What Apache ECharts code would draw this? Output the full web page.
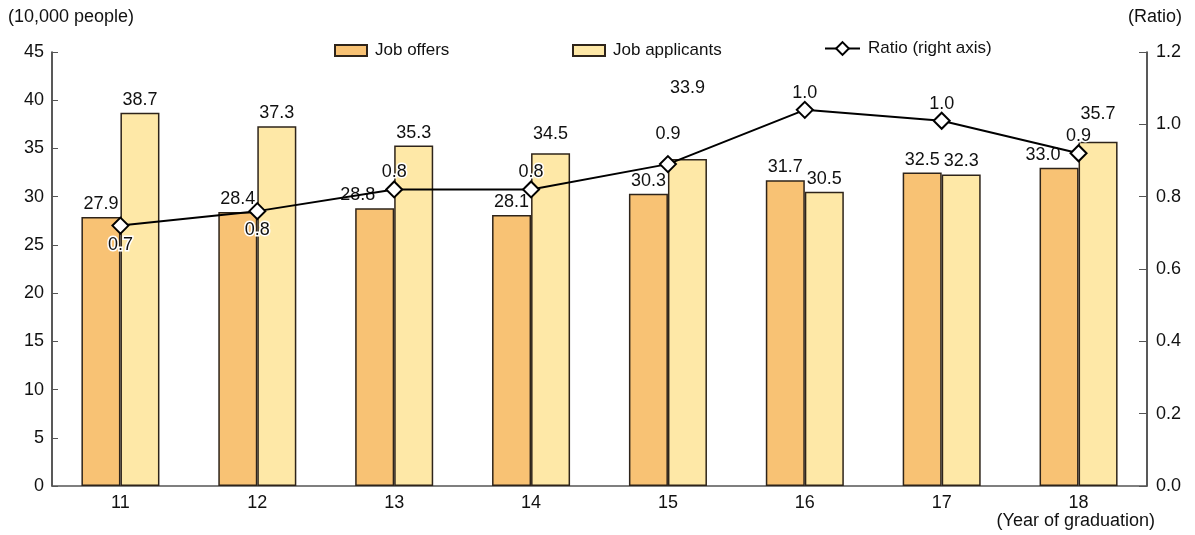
<!DOCTYPE html>
<html>
<head>
<meta charset="utf-8">
<script src="https://cdn.jsdelivr.net/npm/echarts@6/dist/echarts.min.js"></script>
<style>
  html, body { margin: 0; padding: 0; background: #fff; }
  #chart { width: 1195px; height: 535px; }
</style>
</head>
<body>
<div id="chart"></div>
<script>
// Graduation years (category axis)
const years = ['11', '12', '13', '14', '15', '16', '17', '18'];
// Job offers, 10,000 people
const jobOffers = [27.9, 28.4, 28.8, 28.1, 30.3, 31.7, 32.5, 33.0];
// Job applicants, 10,000 people
const jobApplicants = [38.7, 37.3, 35.3, 34.5, 33.9, 30.5, 32.3, 35.7];
// Offers-to-applicants ratio (right axis)
const ratio = [0.72, 0.76, 0.82, 0.82, 0.89, 1.04, 1.01, 0.92];

const FONT = "'Liberation Sans', Arial, sans-serif";
const INK = '#111';
const BORDER = '#2e241a';

// Label nudges for values that would otherwise collide with the ratio line
const offerShift = { 2: [-17, 0], 7: [-16, 0] };
const applicantLift = { 3: -6, 4: -58, 7: -15 };
const ratioBelow = { 0: true, 1: true };
const ratioLift = { 4: -13 };

const chart = echarts.init(document.getElementById('chart'), null, { renderer: 'canvas' });

const barLabel = {
  show: true, position: 'top', distance: 4, fontSize: 18, color: INK,
  textBorderColor: '#fff', textBorderWidth: 2,
  formatter: p => p.value.toFixed(1)
};

chart.setOption({
  animation: false,
  textStyle: { fontFamily: FONT, color: INK },
  grid: { left: 52, right: 48, top: 52, bottom: 49 },
  legend: [
    { data: [{ name: 'Job offers', icon: 'rect' }], left: 329, top: 37, itemWidth: 32, itemHeight: 11 },
    { data: [{ name: 'Job applicants', icon: 'rect' }], left: 567, top: 37, itemWidth: 32, itemHeight: 11 },
    { data: ['Ratio (right axis)'], left: 819, top: 35, itemWidth: 35, itemHeight: 16 }
  ].map(l => Object.assign({
    itemGap: 10,
    textStyle: { fontSize: 17, color: INK, fontFamily: FONT, padding: [0, 0, 0, 3] }
  }, l)),
  graphic: [
    { type: 'text', left: 8, top: 8, style: { text: '(10,000 people)', fontSize: 18, fill: INK, fontFamily: FONT } },
    { type: 'text', right: 13, top: 8, style: { text: '(Ratio)', fontSize: 18, fill: INK, fontFamily: FONT } },
    { type: 'text', right: 40, top: 512, style: { text: '(Year of graduation)', fontSize: 18, fill: INK, fontFamily: FONT } }
  ],
  xAxis: {
    type: 'category',
    data: years,
    boundaryGap: true,
    axisLine: { lineStyle: { color: '#555', width: 1.5 } },
    axisTick: { inside: true, length: 7, lineStyle: { color: '#444', width: 1.5 } },
    axisLabel: { fontSize: 18, color: INK, margin: 8 }
  },
  yAxis: [
    {
      type: 'value', min: 0, max: 45, interval: 5,
      splitLine: { show: false },
      axisLine: { show: true, lineStyle: { color: '#222', width: 1.5 } },
      axisTick: { show: true, inside: true, length: 6, lineStyle: { color: '#555' } },
      axisLabel: { fontSize: 18, color: INK, margin: 8 }
    },
    {
      type: 'value', min: 0, max: 1.2, interval: 0.2,
      splitLine: { show: false },
      axisLine: { show: true, lineStyle: { color: '#222', width: 1.5 } },
      axisTick: { show: true, inside: true, length: 8, lineStyle: { color: '#555' } },
      axisLabel: { fontSize: 18, color: INK, margin: 9, formatter: v => v.toFixed(1) }
    }
  ],
  series: [
    {
      name: 'Job offers',
      type: 'bar',
      barGap: '0%',
      barCategoryGap: '43%',
      z: 2,
      itemStyle: { color: '#F8C274', borderColor: BORDER, borderWidth: 1.5 },
      label: barLabel,
      data: jobOffers.map((v, i) => offerShift[i] ? { value: v, label: { offset: offerShift[i] } } : v)
    },
    {
      name: 'Job applicants',
      type: 'bar',
      z: 2,
      itemStyle: { color: '#FEE8A7', borderColor: BORDER, borderWidth: 1.5 },
      label: barLabel,
      data: jobApplicants.map((v, i) => applicantLift[i] ? { value: v, label: { offset: [0, applicantLift[i]] } } : v)
    },
    {
      name: 'Ratio (right axis)',
      type: 'line',
      yAxisIndex: 1,
      z: 3,
      symbol: 'diamond',
      symbolSize: 16,
      showAllSymbol: true,
      lineStyle: { color: '#000', width: 2 },
      itemStyle: { color: '#fff', borderColor: '#000', borderWidth: 2 },
      label: {
        show: true, position: 'top', distance: -1, fontSize: 18, color: INK,
        textBorderColor: '#fff', textBorderWidth: 3,
        formatter: p => p.value.toFixed(1)
      },
      data: ratio.map((v, i) => {
        if (ratioBelow[i]) return { value: v, label: { position: 'bottom', distance: 1 } };
        if (ratioLift[i]) return { value: v, label: { offset: [0, ratioLift[i]] } };
        return v;
      })
    }
  ]
});
</script>
</body>
</html>
